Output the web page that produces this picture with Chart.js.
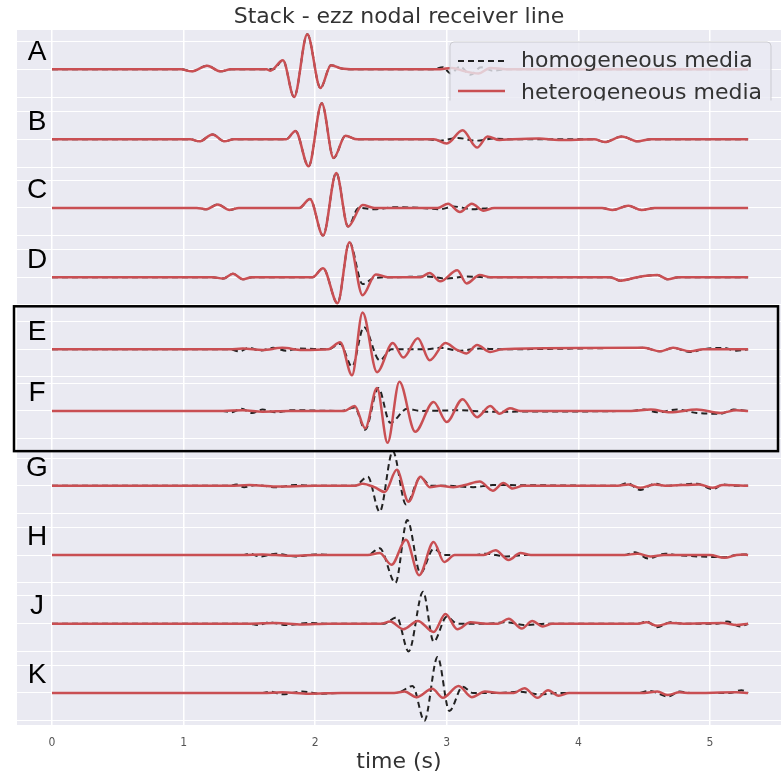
<!DOCTYPE html>
<html>
<head>
<meta charset="utf-8">
<title>Stack - ezz nodal receiver line</title>
<script src="https://cdn.jsdelivr.net/npm/chart.js@4.4.1/dist/chart.umd.min.js"></script>
<style>
    body { margin: 0; background: #fff; }
    #wrap { width: 781px; height: 775px; }
</style>
</head>
<body>
<div id="wrap"><canvas id="stackChart"></canvas></div>
<script>
// receivers, top to bottom
const receivers = ["A", "B", "C", "D", "E", "F", "G", "H", "J", "K"];
// vertical offset of each trace (trace spacing ~ 1)
const offsets = [9.0, 7.99, 7.0, 6.0, 4.96, 4.07, 2.99, 1.99, 1.0, 0];
const xTicks = [0, 1, 2, 3, 4, 5];

// picks read off the stack: [time (s), amplitude]
// homogeneous media (black dashed)
const homA = [[0,0],[0.98,0],[1.06,-0.03],[1.18,0.05],[1.28,-0.03],[1.36,0],[1.68,0],[1.755,0.13],[1.84,-0.40],[1.94,0.505],[2.04,-0.27],[2.12,0.06],[2.2,0.01],[2.3,0],[2.9,0],[2.97,0.03],[3.03,-0.06],[3.1,0.04],[3.18,-0.08],[3.26,0.03],[3.35,-0.02],[3.45,0],[5.29,0]];
const homB = [[0,0],[1.05,0],[1.12,-0.03],[1.22,0.07],[1.31,-0.03],[1.38,0],[1.78,0],[1.85,0.12],[1.95,-0.39],[2.05,0.52],[2.14,-0.27],[2.23,0.05],[2.32,0],[2.85,0],[2.95,-0.02],[3.08,0.02],[3.22,-0.02],[3.36,0.01],[3.5,0],[4.12,0],[4.2,-0.04],[4.33,0.04],[4.45,-0.03],[4.55,0],[5.29,0]];
const homC = [[0,0],[1.1,0],[1.17,-0.02],[1.26,0.05],[1.35,-0.03],[1.42,0],[1.88,0],[1.96,0.13],[2.06,-0.40],[2.16,0.505],[2.25,-0.27],[2.33,0],[2.45,-0.02],[2.6,0.01],[2.8,0],[2.95,-0.02],[3.05,0.02],[3.2,-0.02],[3.35,0],[4.18,0],[4.26,-0.03],[4.38,0.03],[4.48,-0.03],[4.58,0],[5.29,0]];
const homD = [[0,0],[1.22,0],[1.3,-0.02],[1.375,0.05],[1.45,-0.03],[1.52,0],[1.98,0],[2.06,0.13],[2.17,-0.375],[2.26,0.505],[2.36,-0.10],[2.45,-0.01],[2.6,0],[2.85,0.01],[3.0,-0.02],[3.15,0.01],[3.3,0],[4.24,0],[4.32,-0.05],[4.45,0],[4.6,0.03],[4.68,-0.03],[4.76,0],[5.29,0]];
const homE = [[0,0],[1.35,0],[1.42,-0.03],[1.5,0.02],[1.58,-0.02],[1.68,0.02],[1.78,-0.02],[1.88,0.01],[2.1,0],[2.19,0.08],[2.28,-0.25],[2.37,0.32],[2.49,-0.16],[2.58,0],[2.85,0],[2.95,0.02],[3.1,-0.02],[3.25,0.01],[3.4,0],[4.5,0.02],[4.62,-0.03],[4.72,0.02],[4.85,-0.04],[4.95,0],[5.1,0.02],[5.2,-0.02],[5.29,0]];
const homF = [[0,0],[1.3,0],[1.36,-0.02],[1.44,0.03],[1.52,-0.03],[1.6,0.02],[1.7,-0.02],[1.82,0.01],[2.2,0],[2.30,0.05],[2.38,-0.27],[2.48,0.33],[2.57,-0.17],[2.70,0.03],[2.8,0],[3.1,0.01],[3.3,-0.01],[4.4,0],[4.5,0.02],[4.6,-0.02],[4.75,0.02],[4.9,-0.03],[5.08,-0.04],[5.18,0.02],[5.29,0]];
const homG = [[0,0],[1.35,0],[1.4,0.02],[1.46,-0.02],[1.55,0.01],[1.7,-0.02],[1.85,0.01],[2.0,0],[2.3,0],[2.40,0.13],[2.49,-0.375],[2.59,0.5],[2.69,-0.27],[2.80,0.12],[2.88,0],[3.0,0],[3.2,-0.02],[3.35,0.01],[4.3,0],[4.37,0.04],[4.47,-0.06],[4.58,0.03],[4.66,0],[4.9,0.03],[5.02,-0.05],[5.1,0.02],[5.18,0],[5.29,0]];
const homH = [[0,0],[1.45,0],[1.5,0.02],[1.58,-0.02],[1.7,0.02],[1.85,-0.02],[2.0,0.01],[2.15,0],[2.40,0],[2.49,0.10],[2.61,-0.40],[2.70,0.505],[2.80,-0.26],[2.90,0.09],[2.98,0],[3.2,0],[3.3,0.02],[3.45,-0.02],[3.6,0],[4.35,0],[4.43,0.04],[4.53,-0.05],[4.66,0.02],[4.75,0],[5.11,-0.03],[5.2,0],[5.29,0.01]];
const homJ = [[0,0],[1.5,0],[1.56,-0.02],[1.65,0.02],[1.78,-0.02],[1.95,0.01],[2.1,0],[2.52,0],[2.62,0.09],[2.71,-0.40],[2.82,0.46],[2.90,-0.26],[3.00,0.10],[3.08,0],[3.3,0],[3.45,0.02],[3.6,-0.02],[3.75,0],[4.45,0],[4.52,0.03],[4.6,-0.05],[4.7,0.02],[4.8,0],[5.05,0],[5.13,0.03],[5.23,-0.04],[5.29,0]];
const homK = [[0,0],[1.6,0],[1.66,0.02],[1.75,-0.02],[1.9,0.02],[2.05,-0.01],[2.2,0],[2.62,0],[2.74,0.10],[2.83,-0.40],[2.93,0.52],[3.02,-0.26],[3.12,0.09],[3.2,0],[3.4,0],[3.55,0.02],[3.7,-0.02],[3.85,0],[4.45,0],[4.54,0.03],[4.68,-0.05],[4.77,0.02],[4.85,0],[5.15,0],[5.24,0.04],[5.29,0]];

// heterogeneous media (red)
const hetA = [[0,0],[0.98,0],[1.06,-0.03],[1.18,0.05],[1.28,-0.03],[1.36,0],[1.63,0],[1.66,-0.02],[1.68,0],[1.755,0.13],[1.84,-0.40],[1.94,0.505],[2.04,-0.27],[2.12,0.06],[2.2,0.01],[2.3,0],[2.95,0],[3.04,0.02],[3.14,-0.03],[3.24,-0.06],[3.33,0.02],[3.45,0],[5.29,0]];
const hetB = [[0,0],[1.05,0],[1.12,-0.03],[1.22,0.07],[1.31,-0.03],[1.38,0],[1.78,0],[1.85,0.12],[1.95,-0.39],[2.05,0.52],[2.14,-0.27],[2.23,0.05],[2.32,0],[2.9,0],[3.0,-0.06],[3.12,0.13],[3.23,-0.12],[3.31,0.04],[3.4,-0.01],[3.5,0],[3.7,0.01],[3.85,-0.01],[4.12,0],[4.2,-0.04],[4.33,0.04],[4.45,-0.03],[4.55,0],[5.29,0]];
const hetC = [[0,0],[1.1,0],[1.17,-0.02],[1.26,0.05],[1.35,-0.03],[1.42,0],[1.88,0],[1.96,0.13],[2.06,-0.40],[2.16,0.505],[2.25,-0.27],[2.36,0.04],[2.45,0],[2.93,0],[3.01,0.06],[3.10,-0.06],[3.19,0.06],[3.28,-0.04],[3.36,0],[4.18,0],[4.26,-0.03],[4.38,0.03],[4.48,-0.03],[4.58,0],[5.29,0]];
const hetD = [[0,0],[1.22,0],[1.3,-0.02],[1.375,0.05],[1.45,-0.03],[1.52,0],[1.98,0],[2.06,0.13],[2.17,-0.375],[2.26,0.505],[2.36,-0.26],[2.46,0.04],[2.55,0],[2.8,0],[2.87,0.06],[2.95,-0.06],[3.08,0.10],[3.15,-0.09],[3.25,0.03],[3.33,0],[4.24,0],[4.32,-0.05],[4.45,0],[4.6,0.03],[4.68,-0.03],[4.76,0],[5.29,0]];
const hetE = [[0,0],[1.35,0],[1.45,0.01],[1.6,-0.01],[1.75,0.02],[1.9,-0.01],[2.1,0],[2.19,0.10],[2.28,-0.375],[2.36,0.53],[2.47,-0.33],[2.59,0.09],[2.67,-0.12],[2.78,0.16],[2.87,-0.16],[2.99,0.09],[3.07,0],[3.15,-0.06],[3.23,0.06],[3.33,-0.04],[3.42,0],[4.5,0.02],[4.62,-0.03],[4.72,0.02],[4.85,-0.03],[4.95,0],[5.29,0]];
const hetF = [[0,0],[1.3,0],[1.45,0.01],[1.6,-0.01],[1.8,0],[2.22,0],[2.30,0.07],[2.38,-0.25],[2.47,0.33],[2.55,-0.46],[2.64,0.42],[2.76,-0.30],[2.90,0.13],[3.00,-0.16],[3.12,0.17],[3.23,-0.09],[3.33,0.07],[3.40,-0.04],[3.48,0.04],[3.56,0],[4.4,0],[4.55,0.02],[4.7,-0.02],[4.9,0.02],[5.08,-0.03],[5.2,0.01],[5.29,0]];
const hetG = [[0,0],[1.35,0],[1.5,0.01],[1.7,-0.01],[2.0,0],[2.3,0],[2.36,0.03],[2.45,-0.02],[2.53,-0.09],[2.62,0.23],[2.71,-0.23],[2.80,0.13],[2.87,-0.02],[2.95,0],[3.05,-0.02],[3.14,0.01],[3.25,0.06],[3.35,-0.07],[3.43,0.04],[3.50,-0.04],[3.58,0],[4.3,0],[4.38,0.02],[4.47,-0.03],[4.58,0.02],[4.66,0],[4.92,0.02],[5.02,-0.03],[5.1,0.01],[5.29,0]];
const hetH = [[0,0],[1.45,0],[1.6,0.01],[1.8,-0.01],[2.0,0],[2.40,0],[2.49,0.03],[2.58,-0.14],[2.69,0.22],[2.79,-0.29],[2.90,0.19],[2.98,-0.10],[3.06,0],[3.28,0],[3.37,0.07],[3.47,-0.07],[3.56,0.03],[3.64,0],[4.35,0],[4.45,0.02],[4.55,-0.02],[4.65,0],[5.0,0],[5.11,-0.04],[5.2,0],[5.25,0.01],[5.29,0]];
const hetJ = [[0,0],[1.5,0],[1.7,0.01],[1.9,-0.01],[2.1,0],[2.50,0],[2.57,0.03],[2.67,-0.08],[2.78,0.04],[2.90,-0.12],[2.99,0.14],[3.08,-0.08],[3.18,0.02],[3.3,0],[3.39,0],[3.47,0.07],[3.57,-0.07],[3.65,0.04],[3.73,-0.04],[3.8,0],[4.45,0],[4.52,0.02],[4.6,-0.03],[4.7,0.01],[4.8,0],[5.1,0.01],[5.2,-0.02],[5.29,0]];
const hetK = [[0,0],[1.6,0],[1.75,0.01],[1.95,-0.01],[2.2,0],[2.60,0],[2.68,0.02],[2.77,-0.06],[2.89,0.06],[2.97,-0.07],[3.09,0.10],[3.19,-0.06],[3.29,0.02],[3.4,0],[3.51,0],[3.59,0.07],[3.69,-0.07],[3.77,0.04],[3.85,-0.04],[3.93,0],[4.5,0],[4.6,0.02],[4.68,-0.03],[4.77,0.01],[4.85,0],[5.2,0.01],[5.29,0]];

const homTraces = [homA, homB, homC, homD, homE, homF, homG, homH, homJ, homK];
const hetTraces = [hetA, hetB, hetC, hetD, hetE, hetF, hetG, hetH, hetJ, hetK];

const RED = "#c94f53";
const BG = "#eaeaf2";

function shift(trace, off) {
    return trace.map(p => ({ x: p[0], y: p[1] + off }));
}

const datasets = [];
receivers.forEach((r, i) => {
    datasets.push({
        label: "heterogeneous media " + r,
        data: shift(hetTraces[i], offsets[i]),
        borderColor: RED,
        borderWidth: 2.5,
        order: 0
    });
    datasets.push({
        label: "homogeneous media " + r,
        data: shift(homTraces[i], offsets[i]),
        borderColor: "#222",
        borderWidth: 2,
        borderDash: [6, 4],
        order: 1
    });
});

// background, title, row letters, E-F box and the legend
const decorations = {
    id: "decorations",
    beforeDraw(chart) {
        const { ctx, chartArea: a } = chart;
        ctx.save();
        ctx.fillStyle = BG;
        ctx.fillRect(a.left, a.top, a.right - a.left, a.bottom - a.top);
        ctx.restore();
    },
    afterDatasetsDraw(chart) {
        const { ctx, chartArea: a, scales } = chart;
        const y = scales.y;
        ctx.save();

        // title
        ctx.fillStyle = "#333";
        ctx.font = "22px 'DejaVu Sans'";
        ctx.textAlign = "center";
        ctx.textBaseline = "middle";
        ctx.fillText("Stack - ezz nodal receiver line", (a.left + a.right) / 2, a.top - 13);

        // receiver letters
        ctx.fillStyle = "#000";
        ctx.font = "28px 'Liberation Sans'";
        receivers.forEach((r, i) => {
            ctx.fillText(r, a.left + 20, y.getPixelForValue(offsets[i] + 0.25));
        });

        // box around E and F
        const top = y.getPixelForValue(offsets[4] + 0.62);
        const bot = y.getPixelForValue(offsets[5] - 0.58);
        ctx.strokeStyle = "#000";
        ctx.lineWidth = 2.5;
        ctx.strokeRect(a.left - 3, top, a.right - a.left, bot - top);

        // legend (cut off below row A like the original)
        const clipBottom = y.getPixelForValue(offsets[0] - 0.45);
        ctx.beginPath();
        ctx.rect(0, 0, chart.width, clipBottom);
        ctx.clip();
        const lx = a.right - 331, ly = a.top + 12;
        ctx.beginPath();
        ctx.roundRect(lx, ly, 321, 72, 4);
        ctx.fillStyle = "rgba(234,234,242,0.8)";
        ctx.fill();
        ctx.strokeStyle = "rgba(200,200,205,0.9)";
        ctx.lineWidth = 1;
        ctx.stroke();

        ctx.lineWidth = 2;
        ctx.strokeStyle = "#222";
        ctx.setLineDash([6, 4]);
        ctx.beginPath();
        ctx.moveTo(lx + 8, ly + 19);
        ctx.lineTo(lx + 55, ly + 19);
        ctx.stroke();
        ctx.setLineDash([]);
        ctx.strokeStyle = RED;
        ctx.lineWidth = 2.5;
        ctx.beginPath();
        ctx.moveTo(lx + 8, ly + 49);
        ctx.lineTo(lx + 55, ly + 49);
        ctx.stroke();

        ctx.fillStyle = "#333";
        ctx.font = "22px 'DejaVu Sans'";
        ctx.textAlign = "left";
        ctx.fillText("homogeneous media", lx + 71, ly + 19);
        ctx.fillText("heterogeneous media", lx + 71, ly + 51);
        ctx.restore();
    }
};

const ctx = document.getElementById("stackChart").getContext("2d");
new Chart(ctx, {
    type: "line",
    data: { datasets: datasets },
    options: {
        responsive: true,
        maintainAspectRatio: false,
        animation: false,
        layout: { padding: { left: 17, right: 0, top: 30, bottom: 0 } },
        elements: {
            point: { radius: 0 },
            line: { cubicInterpolationMode: "monotone", fill: false }
        },
        plugins: {
            legend: { display: false },
            tooltip: { enabled: false },
            title: { display: false }
        },
        scales: {
            x: {
                type: "linear",
                min: -0.266,
                max: 5.54,
                afterBuildTicks: axis => { axis.ticks = xTicks.map(v => ({ value: v })); },
                afterFit: axis => { axis.height = 50; },
                grid: { color: "#fff", lineWidth: 1.5, drawTicks: false },
                border: { display: false },
                ticks: {
                    padding: 11,
                    color: "#555",
                    font: { family: "'DejaVu Sans Condensed', 'DejaVu Sans'", size: 12 }
                },
                title: {
                    display: true,
                    text: "time (s)",
                    color: "#333",
                    padding: { top: 0, bottom: 0 },
                    font: { family: "'DejaVu Sans'", size: 22 }
                }
            },
            y: {
                type: "linear",
                min: -0.462,
                max: 9.567,
                afterBuildTicks: axis => {
                    axis.ticks = offsets.flatMap(o => [o - 0.4, o, o + 0.4]).map(v => ({ value: v }));
                },
                afterFit: axis => { axis.width = 0; },
                grid: { color: "#fff", lineWidth: 1, drawTicks: false },
                border: { display: false },
                ticks: { display: false }
            }
        }
    },
    plugins: [decorations]
});
</script>
</body>
</html>
